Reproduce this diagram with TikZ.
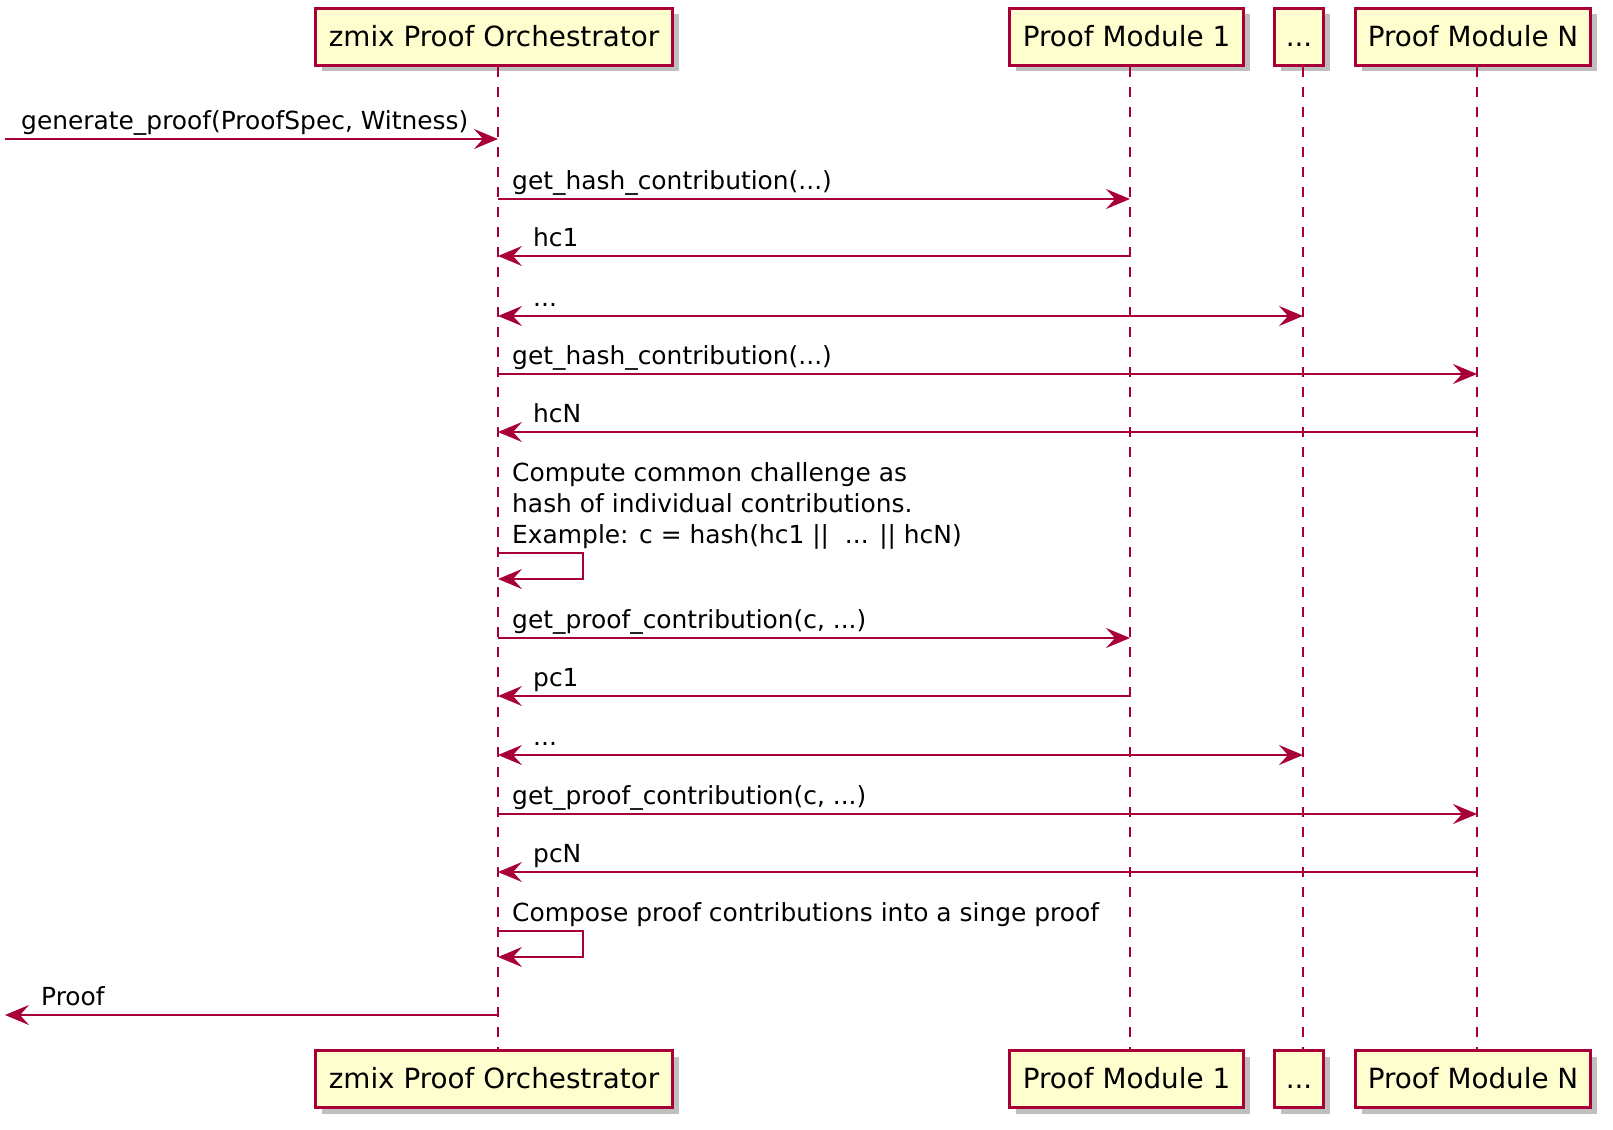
\documentclass[tikz,border=0pt]{standalone}
\usepackage{fontspec}
\setmainfont{DejaVu Sans}
\usetikzlibrary{arrows.meta,shadows}
\definecolor{pumlred}{HTML}{A80036}
\definecolor{pumlfill}{HTML}{FEFECE}
\begin{document}
\begin{tikzpicture}[x=1pt,y=-1pt,
  part/.style={draw=pumlred, line width=3pt, fill=pumlfill, minimum height=57pt, inner sep=0pt,
    font=\fontsize{27.8}{30}\selectfont, text height=23pt, text depth=4pt,
    drop shadow={shadow xshift=6pt, shadow yshift=-6pt, opacity=0.25, fill=black}},
  life/.style={draw=pumlred, line width=1.8pt, dash pattern=on 10pt off 10pt},
  tipx/.tip={Stealth[length=24pt,width=20pt,inset=9pt]},
  msg/.style={draw=pumlred, line width=1.8pt, -tipx},
  bimsg/.style={draw=pumlred, line width=1.8pt, tipx-tipx},
  lbl/.style={anchor=base west, inner sep=0pt, font=\fontsize{24.9}{30.9}\selectfont}
]
\useasboundingbox (0,0) rectangle (1613,1129);

% participants
\node[part, minimum width=357pt] (orchT) at (494,37) {zmix Proof Orchestrator};
\node[part, minimum width=234pt] (pm1T) at (1126.5,37) {Proof Module 1};
\node[part, minimum width=49pt] (dotsT) at (1299,37) {...};
\node[part, minimum width=235pt] (pmnT) at (1473,37) {Proof Module N};
\node[part, minimum width=357pt] (orchB) at (494,1079) {zmix Proof Orchestrator};
\node[part, minimum width=234pt] (pm1B) at (1126.5,1079) {Proof Module 1};
\node[part, minimum width=49pt] (dotsB) at (1299,1079) {...};
\node[part, minimum width=235pt] (pmnB) at (1473,1079) {Proof Module N};

% lifeline x positions
\coordinate (lo) at (498,0);
\coordinate (l1) at (1130,0);
\coordinate (ld) at (1303,0);
\coordinate (ln) at (1477,0);

\draw[life] (lo |- orchT.south) -- (lo |- orchB.north);
\draw[life] (l1 |- pm1T.south) -- (l1 |- pm1B.north);
\draw[life] (ld |- dotsT.south) -- (ld |- dotsB.north);
\draw[life] (ln |- pmnT.south) -- (ln |- pmnB.north);

% message rows
\coordinate (r1) at (5,139);
\coordinate (r2) at (0,199);
\coordinate (r3) at (0,256);
\coordinate (r4) at (0,316);
\coordinate (r5) at (0,374);
\coordinate (r6) at (0,432);
\coordinate (sA) at (583,553);
\coordinate (sB) at (583,579);
\coordinate (r7) at (0,638);
\coordinate (r8) at (0,696);
\coordinate (r9) at (0,755);
\coordinate (r10) at (0,814);
\coordinate (r11) at (0,872);
\coordinate (tA) at (583,931);
\coordinate (tB) at (583,957);
\coordinate (r12) at (5,1015);

\draw[msg] (r1) -- (lo |- r1);
\node[lbl] (t1) at (21,129) {generate\_proof(ProofSpec, Witness)};

\draw[msg] (lo |- r2) -- (l1 |- r2);
\node[lbl] (t2) at (512,189) {get\_hash\_contribution(...)};

\draw[msg] (l1 |- r3) -- (lo |- r3);
\node[lbl] (t3) at (533,246) {hc1};

\draw[bimsg] (lo |- r4) -- (ld |- r4);
\node[lbl] (t4) at (533,306) {...};

\draw[msg] (lo |- r5) -- (ln |- r5);
\node[lbl] (t5) at (512,364) {get\_hash\_contribution(...)};

\draw[msg] (ln |- r6) -- (lo |- r6);
\node[lbl] (t6) at (533,422) {hcN};

\node[lbl] (n1) at (512,481) {Compute common challenge as};
\node[lbl] (n2) at (512,512) {hash of individual contributions.};
\node[lbl] (n3) at (512,543) {Example: c = hash(hc1 ||~ ... || hcN)};
\draw[msg] (lo |- sA) -- (sA) -- (sB) -- (lo |- sB);

\draw[msg] (lo |- r7) -- (l1 |- r7);
\node[lbl] (t7) at (512,628) {get\_proof\_contribution(c, ...)};

\draw[msg] (l1 |- r8) -- (lo |- r8);
\node[lbl] (t8) at (533,686) {pc1};

\draw[bimsg] (lo |- r9) -- (ld |- r9);
\node[lbl] (t9) at (533,745) {...};

\draw[msg] (lo |- r10) -- (ln |- r10);
\node[lbl] (t10) at (512,804) {get\_proof\_contribution(c, ...)};

\draw[msg] (ln |- r11) -- (lo |- r11);
\node[lbl] (t11) at (533,862) {pcN};

\node[lbl] (n4) at (512,921) {Compose proof contributions into a singe proof};
\draw[msg] (lo |- tA) -- (tA) -- (tB) -- (lo |- tB);

\draw[msg] (lo |- r12) -- (r12);
\node[lbl] (t12) at (41,1005) {Proof};
\end{tikzpicture}
\end{document}
